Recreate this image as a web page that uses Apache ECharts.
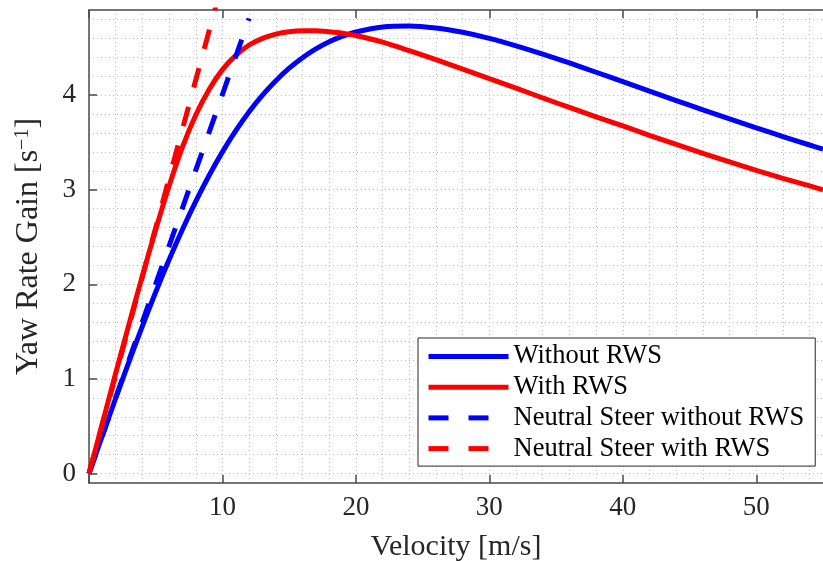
<!DOCTYPE html>
<html>
<head>
<meta charset="utf-8">
<script src="https://cdn.jsdelivr.net/npm/echarts@6/dist/echarts.min.js"></script>
<style>
html,body{margin:0;padding:0;background:#fff;}
#chart{width:823px;height:561px;}
</style>
</head>
<body>
<div id="chart"></div>
<script>
// ---- data ----
const velocity = [0,1,2,3,4,5,6,7,8,9,10,11,12,13,14,15,16,17,18,19,20,22,24,26,28,30,32,34,36,38,40,42,44,46,48,50,52,54,55];
const gainWithoutRWS = [0,0.400,0.796,1.184,1.559,1.919,2.260,2.580,2.877,3.151,3.400,3.624,3.824,4.000,4.153,4.285,4.396,4.489,4.564,4.623,4.668,4.721,4.732,4.710,4.664,4.600,4.521,4.434,4.340,4.242,4.143,4.042,3.943,3.844,3.748,3.654,3.562,3.473,3.430];
const gainWithRWS = [0,0.53,1.06,1.58,2.09,2.58,3.04,3.45,3.79,4.06,4.27,4.42,4.53,4.60,4.645,4.67,4.68,4.68,4.67,4.655,4.63,4.56,4.47,4.375,4.275,4.175,4.075,3.97,3.87,3.77,3.675,3.575,3.48,3.385,3.295,3.205,3.12,3.04,3.00];
const neutralVelocity = [0, 12];
const neutralWithoutRWS = [0, 4.81];
const neutralWithRWS = [0, 6.24];
const seriesNames = ['Without RWS','With RWS','Neutral Steer without RWS','Neutral Steer with RWS'];
const xTickValues = [0,10,20,30,40,50];
const xLabelValues = [10,20,30,40,50];
const yTickValues = [0,1,2,3,4];
const xGridValues = []; for (let v = 0; v <= 54; v += 2) xGridValues.push(v);
const yGridValues = []; for (let i = 0; i <= 24; i++) yGridValues.push(+(i*0.2).toFixed(1));

const pairs = (xs, ys) => xs.map((x, i) => [x, ys[i]]);
const FONT = '"Liberation Serif","DejaVu Serif",serif';
const AX = '#4a4a4a';
const gridLine = {show:true, lineStyle:{color:'#bdbdbd', width:1, type:[1,3]}};

const chart = echarts.init(document.getElementById('chart'), null, {renderer:'canvas'});
chart.setOption({
  animation:false,
  backgroundColor:'#fff',
  grid:{left:89, right:0, top:10, bottom:78, containLabel:false, outerBoundsMode:'none'},
  legend:{
    orient:'vertical', left:418, top:338,
    data:seriesNames,
    itemWidth:80, itemHeight:14, itemGap:3.7,
    padding:[5,11,4,8],
    backgroundColor:'#fff', borderColor:'#262626', borderWidth:1,
    itemStyle:{opacity:0},
    lineStyle:{width:5, cap:'butt'},
    textStyle:{fontFamily:FONT, fontSize:26.5, lineHeight:26, color:'#000'}
  },
  xAxis:[
    {type:'value', min:0, max:55, position:'bottom',
     name:'Velocity [m/s]', nameLocation:'middle', nameGap:49,
     nameTextStyle:{fontFamily:FONT, fontSize:30, color:'#262626'},
     axisLine:{show:true, onZero:false, lineStyle:{color:AX, width:1.5}},
     axisTick:{show:true, inside:true, length:8, customValues:xTickValues, lineStyle:{color:AX, width:1.5}},
     axisLabel:{customValues:xLabelValues, margin:11, fontFamily:FONT, fontSize:27, color:'#262626'},
     splitLine:{show:false}},
    {type:'value', min:0, max:55, position:'top',
     axisLine:{show:true, onZero:false, lineStyle:{color:AX, width:1.5}},
     axisTick:{show:true, inside:true, length:8, customValues:xTickValues, lineStyle:{color:AX, width:1.5}},
     axisLabel:{show:false}, splitLine:{show:false}},
    {type:'value', min:0, max:55, position:'bottom',
     axisLine:{show:false}, axisTick:{show:false, customValues:xGridValues},
     axisLabel:{show:false}, splitLine:gridLine}
  ],
  yAxis:[
    {type:'value', min:-0.1, max:4.9, position:'left',
     name:'Yaw Rate Gain [s{sup|\u22121}]', nameLocation:'middle', nameGap:44, nameRotate:90,
     nameTextStyle:{fontFamily:FONT, fontSize:32, color:'#262626',
       rich:{sup:{fontFamily:FONT, fontSize:20, color:'#262626', verticalAlign:'top', lineHeight:20}}},
     axisLine:{show:true, onZero:false, lineStyle:{color:AX, width:1.5}},
     axisTick:{show:true, inside:true, length:8, customValues:yTickValues, lineStyle:{color:AX, width:1.5}},
     axisLabel:{customValues:yTickValues, margin:13, fontFamily:FONT, fontSize:27, color:'#262626'},
     splitLine:{show:false}},
    {type:'value', min:-0.1, max:4.9, position:'left',
     axisLine:{show:false}, axisTick:{show:false, customValues:yGridValues},
     axisLabel:{show:false}, splitLine:gridLine}
  ],
  series:[
    {name:seriesNames[0], type:'line', data:pairs(velocity, gainWithoutRWS), symbol:'none', smooth:0.3,
     lineStyle:{color:'#0000ff', width:5}, itemStyle:{color:'#0000ff'}},
    {name:seriesNames[1], type:'line', data:pairs(velocity, gainWithRWS), symbol:'none', smooth:0.3,
     lineStyle:{color:'#ff0000', width:5}, itemStyle:{color:'#ff0000'}},
    {name:seriesNames[2], type:'line', data:pairs(neutralVelocity, neutralWithoutRWS), symbol:'none',
     lineStyle:{color:'#0000ff', width:5, type:[20,20], cap:'butt'}, itemStyle:{color:'#0000ff'}},
    {name:seriesNames[3], type:'line', data:pairs(neutralVelocity, neutralWithRWS), symbol:'none',
     lineStyle:{color:'#ff0000', width:5, type:[20,20], cap:'butt'}, itemStyle:{color:'#ff0000'}}
  ]
});
</script>
</body>
</html>
